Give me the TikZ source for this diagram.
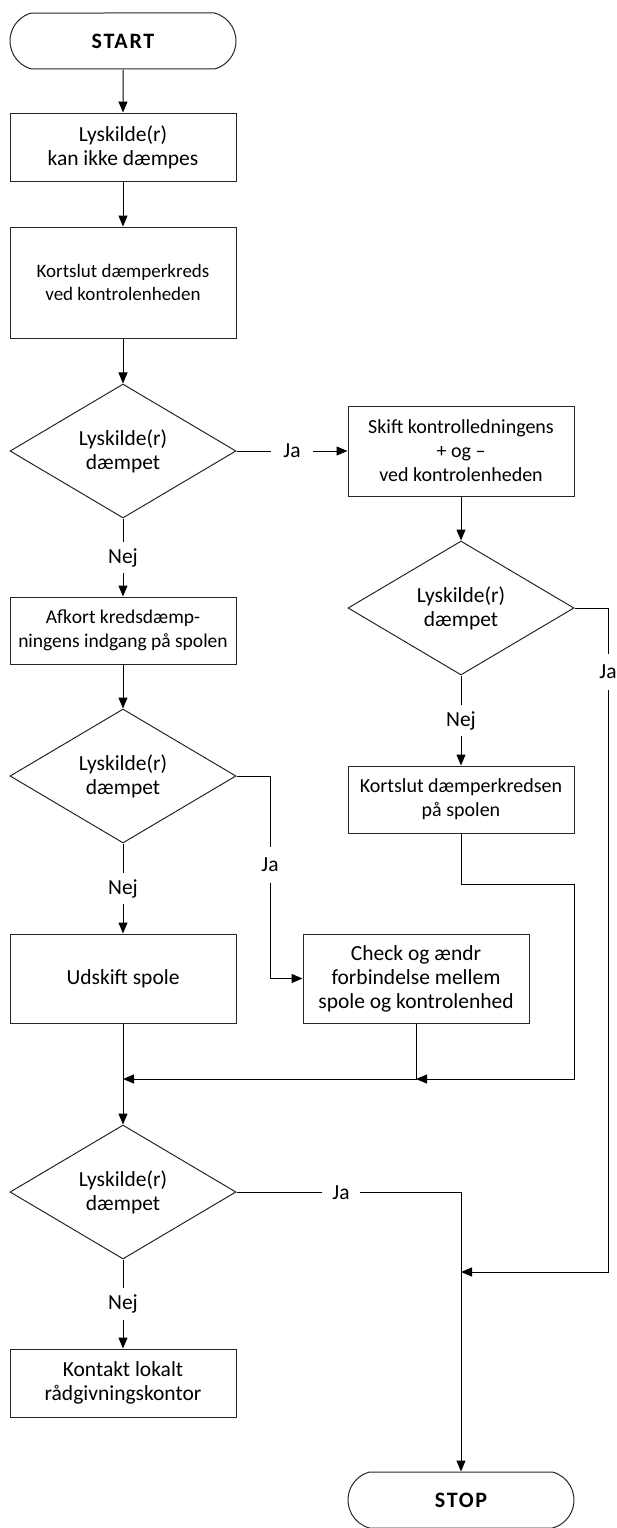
\documentclass[tikz,border=0pt]{standalone}
\usepackage{fontspec}
\setmainfont{Carlito}
\usetikzlibrary{shapes.geometric,shapes.misc,arrows.meta}
\begin{document}
\begin{tikzpicture}[x=1pt,y=-1pt,
  every node/.style={font=\fontsize{21.5}{24}\selectfont},
  box/.style={draw=black!85, line width=1pt, minimum width=226pt, align=center, inner sep=0pt},
  dec/.style={draw=black!85, line width=1pt, diamond, minimum width=226pt, minimum height=134pt, inner sep=0pt, align=center},
  term/.style={draw=black!85, line width=1pt, rounded rectangle, rounded rectangle arc length=150, minimum width=226pt, minimum height=56pt, inner sep=0pt, font=\fontsize{22}{24}\selectfont\bfseries\addfontfeature{LetterSpace=8}},
  conn/.style={line width=1pt, draw=black},
  arr/.style={conn, -{Triangle[length=11pt,width=9pt]}},
  lbl/.style={fill=white, inner xsep=12pt, inner ysep=6.5pt},
  vlbl/.style={fill=white, inner xsep=6pt, inner ysep=11pt},
  small/.style={font=\fontsize{20}{24}\selectfont}
]
\useasboundingbox (0,0) rectangle (616,1528);
\node[term] (start) at (123,41) {START};
\node[box, minimum height=68pt] (b1) at (123,147) {Lyskilde(r)\\kan ikke dæmpes};
\node[box, minimum height=111pt, font=\fontsize{19}{23}\selectfont] (b2) at (123,282.5) {Kortslut dæmperkreds\\ved kontrolenheden};
\node[dec] (d1) at (123,451) {Lyskilde(r)\\dæmpet};
\node[box, minimum height=90pt, small] (b3) at (461,451) {Skift kontrolledningens\\+ og –\\ved kontrolenheden};
\node[box, minimum height=67pt, font=\fontsize{19.5}{24}\selectfont] (b4) at (123,630.5) {Afkort kredsdæmp-\\ningens indgang på spolen};
\node[dec] (d2) at (461,608) {Lyskilde(r)\\dæmpet};
\node[box, minimum height=67pt, small] (b5) at (461,799.5) {Kortslut dæmperkredsen\\på spolen};
\node[dec] (d3) at (123,776) {Lyskilde(r)\\dæmpet};
\node[box, minimum height=89pt] (b6) at (416,978.5) {Check og ændr\\forbindelse mellem\\spole og kontrolenhed};
\node[box, minimum height=89pt] (b7) at (123,978.5) {Udskift spole};
\node[dec] (d4) at (123,1192) {Lyskilde(r)\\dæmpet};
\node[box, minimum height=68pt] (b8) at (123,1383) {Kontakt lokalt\\rådgivningskontor};
\node[term] (stop) at (461,1500) {STOP};
\coordinate (k1) at (574,884);
\coordinate (j1) at (416,1079);
\coordinate (j0) at (123,1079);
\coordinate (r2) at (608,608);
\coordinate (m2) at (461,1272);
\coordinate (r3) at (270,776);
\draw[arr] (start) -- (b1);
\draw[arr] (b1) -- (b2);
\draw[arr] (b2) -- (d1);
\draw[arr] (d1.east) -- node[lbl]{Ja} (b3.west);
\draw[arr] (d1.south) -- node[lbl]{Nej} (b4.north);
\draw[arr] (b3) -- (d2);
\draw[arr] (d2.south) -- node[lbl]{Nej} (b5.north);
\draw[arr] (d2.east) -- (r2) |- (m2);
\node[vlbl] at (608,672) {Ja};
\draw[arr] (b4) -- (d3);
\draw[arr] (d3.south) -- node[lbl]{Nej} (b7.north);
\draw[arr] (d3.east) -- (r3) |- (b6.west);
\node[vlbl] at (270,865) {Ja};
\draw[arr] (b5.south) |- (k1) |- (j1);
\draw[arr] (b6.south) |- (j0);
\draw[arr] (b7.south) -- (d4.north);
\draw[arr] (d4.south) -- node[lbl]{Nej} (b8.north);
\draw[arr] (d4.east) -| (stop.north);
\node[lbl, inner xsep=10pt] at (341,1193) {Ja};
\end{tikzpicture}
\end{document}
